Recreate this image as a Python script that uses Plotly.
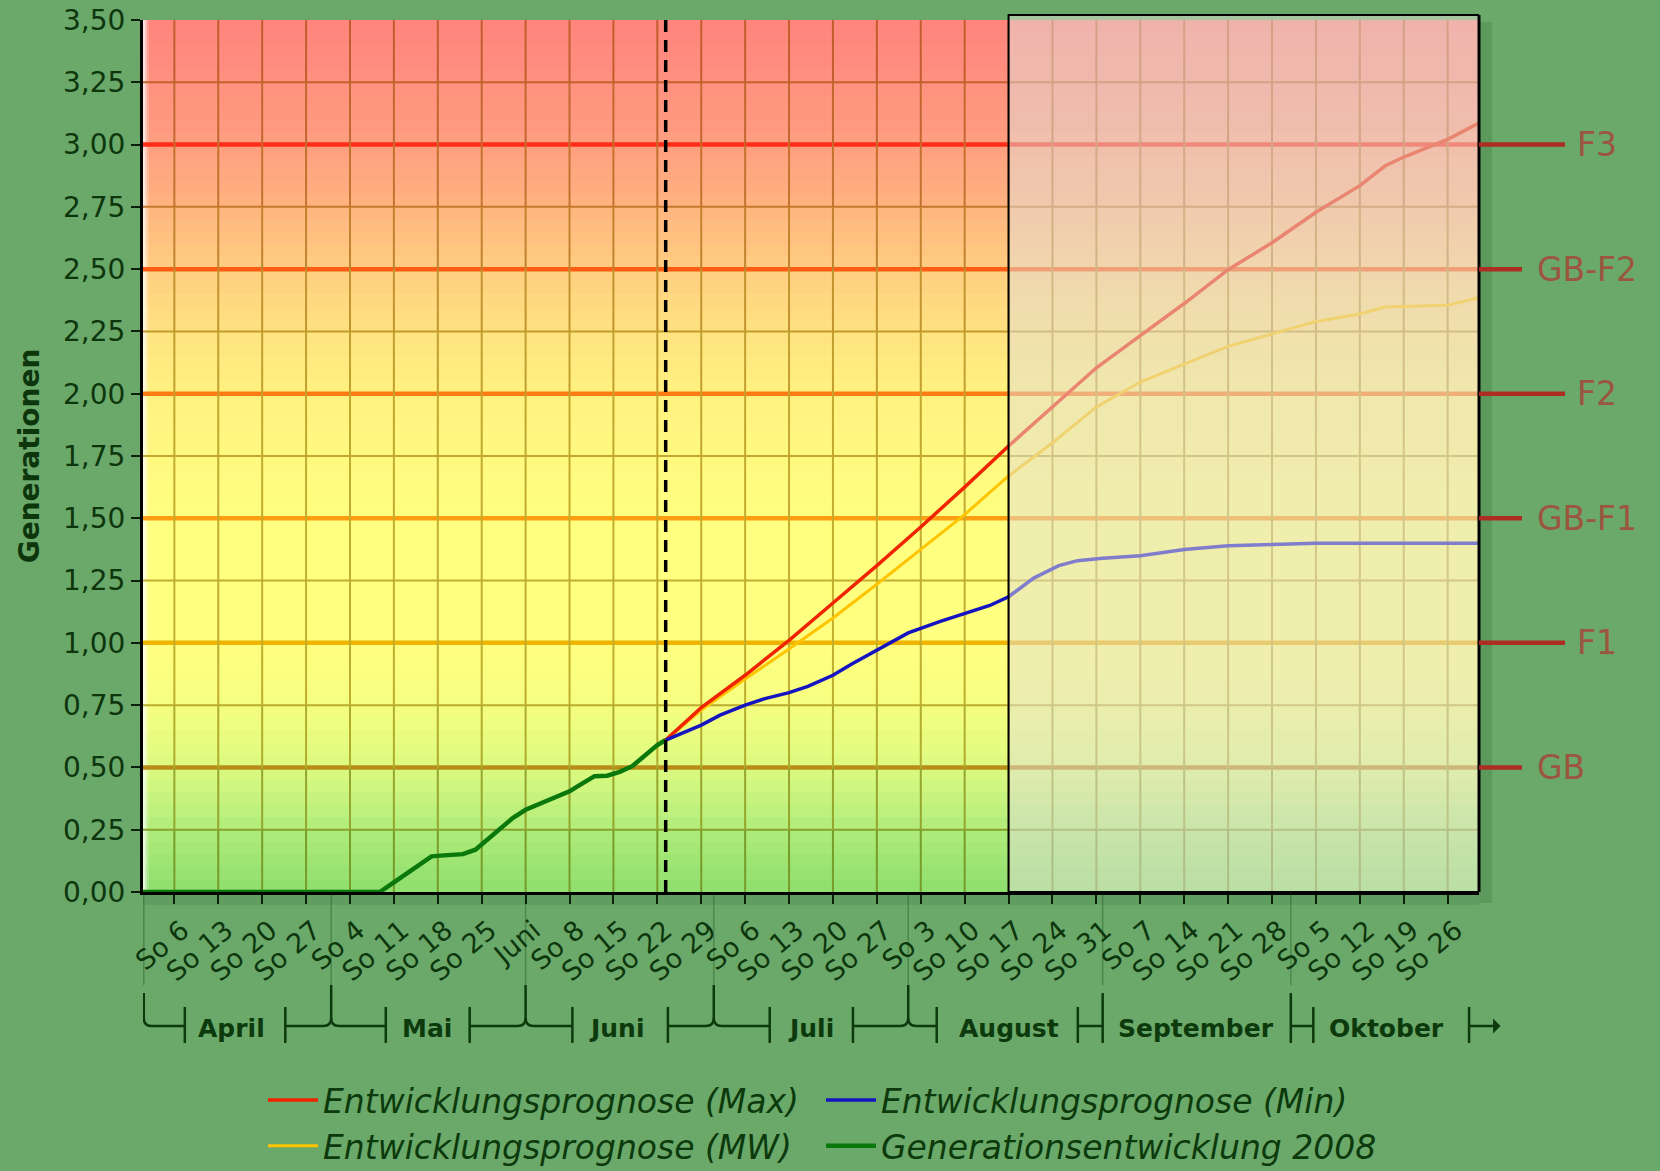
import plotly.graph_objects as go
import pandas as pd

# ---------------- data ----------------
x_range = ["2008-04-01", "2008-10-31"]

week_ticks = ["2008-04-06", "2008-04-13", "2008-04-20", "2008-04-27", "2008-05-04", "2008-05-11",
              "2008-05-18", "2008-05-25", "2008-06-01", "2008-06-08", "2008-06-15", "2008-06-22",
              "2008-06-29", "2008-07-06", "2008-07-13", "2008-07-20", "2008-07-27", "2008-08-03",
              "2008-08-10", "2008-08-17", "2008-08-24", "2008-08-31", "2008-09-07", "2008-09-14",
              "2008-09-21", "2008-09-28", "2008-10-05", "2008-10-12", "2008-10-19", "2008-10-26"]
week_labels = ["So 6", "So 13", "So 20", "So 27", "So 4", "So 11", "So 18", "So 25", "Juni",
               "So 8", "So 15", "So 22", "So 29", "So 6", "So 13", "So 20", "So 27", "So 3",
               "So 10", "So 17", "So 24", "So 31", "So 7", "So 14", "So 21", "So 28", "So 5",
               "So 12", "So 19", "So 26"]

y_ticks = [0, 0.25, 0.5, 0.75, 1.0, 1.25, 1.5, 1.75, 2.0, 2.25, 2.5, 2.75, 3.0, 3.25, 3.5]

month_names = ["April", "Mai", "Juni", "Juli", "August", "September", "Oktober"]
month_starts = ["2008-04-01", "2008-05-01", "2008-06-01", "2008-07-01", "2008-08-01",
                "2008-09-01", "2008-10-01"]
month_label_dates = ["2008-04-15 04:00", "2008-05-16 06:00", "2008-06-15 12:00", "2008-07-16 12:00",
                     "2008-08-17 03:00", "2008-09-15 21:00", "2008-10-16 05:00"]

today = "2008-06-23 08:00"
overlay_start = "2008-08-17"

levels = [0.5, 1.0, 1.5, 2.0, 2.5, 3.0]
level_labels = ["GB", "F1", "GB-F1", "F2", "GB-F2", "F3"]

gen_dates = ["2008-04-01", "2008-05-08 18:00", "2008-05-11", "2008-05-14", "2008-05-17", "2008-05-19",
             "2008-05-22", "2008-05-24", "2008-05-27", "2008-05-30", "2008-06-01", "2008-06-03",
             "2008-06-05", "2008-06-08", "2008-06-10", "2008-06-12", "2008-06-14", "2008-06-16",
             "2008-06-18", "2008-06-20", "2008-06-22", "2008-06-23 08:00"]
gen_values = [0, 0, 0.039, 0.091, 0.143, 0.147, 0.152, 0.17, 0.235, 0.298, 0.33, 0.351,
              0.372, 0.404, 0.435, 0.465, 0.467, 0.482, 0.505, 0.545, 0.59, 0.61]

fc_dates = ["2008-06-23 08:00", "2008-06-29", "2008-07-06", "2008-07-13", "2008-07-20", "2008-07-27",
            "2008-08-03", "2008-08-10", "2008-08-17", "2008-08-24", "2008-08-31", "2008-09-07",
            "2008-09-14", "2008-09-21", "2008-09-28", "2008-10-05", "2008-10-12", "2008-10-16",
            "2008-10-19", "2008-10-26", "2008-10-31"]
max_values = [0.61, 0.74, 0.87, 1.01, 1.16, 1.31, 1.465, 1.625, 1.79, 1.947, 2.104, 2.233,
              2.362, 2.498, 2.606, 2.728, 2.835, 2.914, 2.95, 3.021, 3.086]
mw_values = [0.61, 0.73, 0.855, 0.975, 1.10, 1.235, 1.375, 1.515, 1.67, 1.803, 1.947, 2.047,
             2.119, 2.19, 2.24, 2.29, 2.32, 2.348, 2.35, 2.355, 2.385]

min_dates = ["2008-06-23 08:00", "2008-06-26", "2008-06-29", "2008-07-02", "2008-07-06", "2008-07-09",
             "2008-07-13", "2008-07-16", "2008-07-20", "2008-07-23", "2008-07-27", "2008-08-01",
             "2008-08-06", "2008-08-09", "2008-08-14", "2008-08-17", "2008-08-21", "2008-08-25",
             "2008-08-28", "2008-09-01", "2008-09-07", "2008-09-14", "2008-09-21", "2008-09-28",
             "2008-10-05", "2008-10-31"]
min_values = [0.61, 0.64, 0.67, 0.71, 0.75, 0.775, 0.80, 0.825, 0.87, 0.915, 0.97, 1.04,
              1.085, 1.11, 1.15, 1.185, 1.26, 1.31, 1.33, 1.34, 1.35, 1.375, 1.39, 1.395,
              1.40, 1.40]

# ---------------- style / layout ----------------
W, H = 1660, 1171
ML, MR, MT, MB = 143, 181, 20, 279
PLOT_H = H - MT - MB
PLOT_W = W - ML - MR
FONT = "DejaVu Sans"
TXT = "#0d360d"


def py(px):
    return (H - MB - px) / PLOT_H


def pxx(px):
    return (px - ML) / PLOT_W


fig = go.Figure()
fig.add_trace(go.Scatter(x=gen_dates, y=gen_values, mode="lines", name="Generationsentwicklung 2008",
                         line=dict(color="#0b780b", width=4.5), legendrank=4))
fig.add_trace(go.Scatter(x=fc_dates, y=mw_values, mode="lines", name="Entwicklungsprognose (MW)",
                         line=dict(color="#ffc400", width=3), legendrank=3))
fig.add_trace(go.Scatter(x=fc_dates, y=max_values, mode="lines", name="Entwicklungsprognose (Max)",
                         line=dict(color="#f02400", width=3.5), legendrank=1))
fig.add_trace(go.Scatter(x=min_dates, y=min_values, mode="lines", name="Entwicklungsprognose (Min)",
                         line=dict(color="#1414c0", width=3.5), legendrank=2))

shapes = []
# vertical background gradient
stops = [(0.0, (140, 222, 110)), (0.25, (176, 236, 122)), (0.5, (220, 250, 128)),
         (0.75, (246, 255, 128)), (1.0, (255, 255, 128)), (1.5, (255, 255, 128)),
         (2.0, (255, 242, 128)), (2.25, (255, 226, 128)), (2.5, (255, 206, 128)),
         (2.75, (255, 180, 128)), (3.0, (255, 158, 128)), (3.25, (255, 144, 127)),
         (3.5, (255, 132, 125))]


def grad_rgb(v):
    for (a, ca), (b, cb) in zip(stops[:-1], stops[1:]):
        if a <= v <= b:
            t = (v - a) / (b - a)
            return tuple(ca[k] + (cb[k] - ca[k]) * t for k in range(3))
    return stops[-1][1]


def rgb(c, f=1.0):
    return "rgb(%d,%d,%d)" % tuple(round(min(255, x * f)) for x in c)


def grid_col(v):
    r, g, b = grad_rgb(v)
    return "rgb(%d,%d,%d)" % (round(r * 0.76), round(g * 0.68), round(b * 0.36))


n = 70
for i in range(n):
    y0 = 3.5 * i / n
    y1 = 3.5 * (i + 1) / n
    shapes.append(dict(type="rect", xref="paper", yref="y", x0=0, x1=1, y0=y0, y1=min(3.5, y1 + 0.01),
                       fillcolor=rgb(grad_rgb((y0 + y1) / 2)), line=dict(width=0), layer="below"))
# soft white glow on left edge
for k, a in enumerate([0.55, 0.35, 0.18]):
    shapes.append(dict(type="rect", xref="paper", yref="paper", x0=0, x1=pxx(ML + 2 + 2 * k),
                       y0=0, y1=1, fillcolor="rgba(255,255,255,%.2f)" % a, line=dict(width=0), layer="below"))

# grid lines tinted by the background (drawn as segments)
for t in week_ticks:
    for j in range(14):
        a, b = 0.25 * j, 0.25 * (j + 1)
        shapes.append(dict(type="line", xref="x", yref="y", x0=t, x1=t, y0=a, y1=b,
                           line=dict(color=grid_col((a + b) / 2), width=2), layer="below"))
for v in y_ticks[1:-1]:
    shapes.append(dict(type="line", xref="paper", yref="y", x0=0, x1=1, y0=v, y1=v,
                       line=dict(color=grid_col(v), width=2), layer="below"))

# threshold lines
level_colors = ["#b88c18", "#eeb400", "#ff9e10", "#ff7c14", "#ff5c14", "#ff2c18"]
for v, c in zip(levels, level_colors):
    shapes.append(dict(type="line", xref="paper", yref="y", x0=0, x1=1, y0=v, y1=v,
                       line=dict(color=c, width=4.5), layer="between"))

# today marker
shapes.append(dict(type="line", xref="x", yref="paper", x0=today, x1=today, y0=0, y1=1,
                   line=dict(color="black", width=3.5, dash="12px,8px"), layer="above"))

# greyed forecast box
shapes.append(dict(type="rect", xref="x", yref="paper", x0=overlay_start, x1=x_range[1], y0=0, y1=py(15),
                   fillcolor="rgba(226,222,214,0.52)", line=dict(color="black", width=2), layer="above"))
shapes.append(dict(type="line", xref="paper", yref="paper", x0=1, x1=1, y0=0, y1=py(15),
                   line=dict(color="black", width=3), layer="above"))
# shadow right of / below the plot
shapes.append(dict(type="rect", xref="paper", yref="paper", x0=1, x1=pxx(1492), y0=py(903), y1=py(22),
                   fillcolor="rgba(0,45,0,0.13)", line=dict(width=0), layer="below"))
shapes.append(dict(type="rect", xref="paper", yref="paper", x0=0, x1=1, y0=py(905), y1=0,
                   fillcolor="rgba(0,45,0,0.09)", line=dict(width=0), layer="below"))

# right hand level markers
annotations = []
for v, lab in zip(levels, level_labels):
    is_gb = lab.startswith("GB")
    shapes.append(dict(type="line", xref="paper", yref="y", x0=1.0, x1=pxx(1522 if is_gb else 1565),
                       y0=v, y1=v, line=dict(color="#ad2d22", width=4.5), layer="above"))
    annotations.append(dict(xref="paper", yref="y", x=pxx(1535 if is_gb else 1575), y=v, text=lab,
                            showarrow=False, xanchor="left", yanchor="middle",
                            font=dict(family=FONT, size=33, color="#9c553f")))

# month brackets
BR_COL = "#0d3a0d"
BR_W = 2.5
yh = py(1026)
rp = 8 / PLOT_H
R = pd.Timedelta(hours=30)
y_bar0, y_bar1 = py(1007), py(1043)
y_tall0 = py(993)
y_join0 = py(985)
month_bars = {
    "April": ("2008-04-07 16:00", "2008-04-23 16:30"),
    "Mai": ("2008-05-09 17:00", "2008-05-23 02:00"),
    "Juni": ("2008-06-08 11:00", "2008-06-23 16:30"),
    "Juli": ("2008-07-09 22:00", "2008-07-23 04:30"),
    "August": ("2008-08-05 13:00", "2008-08-28 01:00"),
    "September": (None, None),
    "Oktober": ("2008-10-04 14:00", "2008-10-29 10:00"),
}


def ds(t):
    return pd.Timestamp(t).strftime("%Y-%m-%d_%H:%M:%S")


def line(x0, x1, y0, y1, col=BR_COL, w=BR_W):
    shapes.append(dict(type="line", xref="x", yref="paper", x0=x0, x1=x1, y0=y0, y1=y1,
                       line=dict(color=col, width=w), layer="above"))


def path(p):
    shapes.append(dict(type="path", xref="x", yref="paper", path=p,
                       line=dict(color=BR_COL, width=BR_W), layer="above"))


for i, m in enumerate(month_names):
    S = pd.Timestamp(month_starts[i])
    Sb = S + pd.Timedelta(hours=3) if i == 0 else S
    lb, rb = month_bars[m]
    prev_rb = month_bars[month_names[i - 1]][1] if i > 0 else None
    # faint guide from the axis down to the bracket row
    line(Sb, Sb, 0, y_join0, col="rgba(0,50,0,0.28)", w=1.5)
    if lb is not None and (i == 0 or prev_rb is not None):
        top = y_tall0 if i == 0 else y_join0
        line(Sb, Sb, top, yh + rp)
        path("M %s,%f Q %s,%f %s,%f L %s,%f" % (ds(Sb), yh + rp, ds(Sb), yh, ds(Sb + R), yh, ds(lb), yh))
        if prev_rb is not None:
            path("M %s,%f L %s,%f Q %s,%f %s,%f" % (ds(prev_rb), yh, ds(Sb - R), yh, ds(Sb), yh, ds(Sb), yh + rp))
    else:
        line(Sb, Sb, y_tall0, y_bar1)
        if lb is not None:
            line(Sb, lb, yh, yh)
        if prev_rb is not None:
            line(prev_rb, Sb, yh, yh)
    for b in (lb, rb):
        if b is not None:
            line(b, b, y_bar0, y_bar1)
    annotations.append(dict(xref="x", yref="paper", x=month_label_dates[i], y=py(1028), text=m,
                            showarrow=False, xanchor="center", yanchor="middle",
                            font=dict(family=FONT, size=25, color=BR_COL, weight="bold")))

# final arrow
annotations.append(dict(xref="x", yref="paper", x=month_bars["Oktober"][1], y=yh, text="",
                        showarrow=True, ax=33, ay=0, arrowside="start", arrowhead=2, arrowsize=1.1,
                        arrowwidth=BR_W, arrowcolor=BR_COL, standoff=0, startstandoff=0))

fig.update_layout(
    width=W, height=H,
    margin=dict(l=ML, r=MR, t=MT, b=MB, autoexpand=False),
    paper_bgcolor="#6aa96a",
    plot_bgcolor="#ffff80",
    separators=", ",
    font=dict(family=FONT, color=TXT),
    shapes=shapes,
    annotations=annotations,
    showlegend=True,
    legend=dict(orientation="h", x=pxx(263), y=py(1072), xanchor="left", yanchor="top",
                bgcolor="rgba(0,0,0,0)", itemwidth=50, entrywidth=493, entrywidthmode="pixels",
                font=dict(family=FONT, size=33, color="#0c3a0c", style="italic")),
    xaxis=dict(type="date", range=x_range, tickmode="array", tickvals=week_ticks, ticktext=week_labels,
               tickangle=-40, tickfont=dict(family=FONT, size=27, color=TXT), ticklabelshift=8,
               showgrid=False, zeroline=False,
               ticks="outside", ticklen=9, tickwidth=2, tickcolor="#0a200a",
               showline=True, linecolor="black", linewidth=3),
    yaxis=dict(range=[0, 3.5], tickmode="array", tickvals=y_ticks, tickformat=".2f",
               tickfont=dict(family=FONT, size=28, color=TXT),
               showgrid=False, zeroline=False,
               ticks="outside", ticklen=9, tickwidth=2, tickcolor="#0a200a",
               showline=True, linecolor="black", linewidth=3,
               title=dict(text="Generationen", standoff=16,
                          font=dict(family=FONT, size=28, color=TXT, weight="bold"))),
)

fig.write_html("out.html", config={"displayModeBar": False},
               post_script="document.body.style.margin='0px';")
